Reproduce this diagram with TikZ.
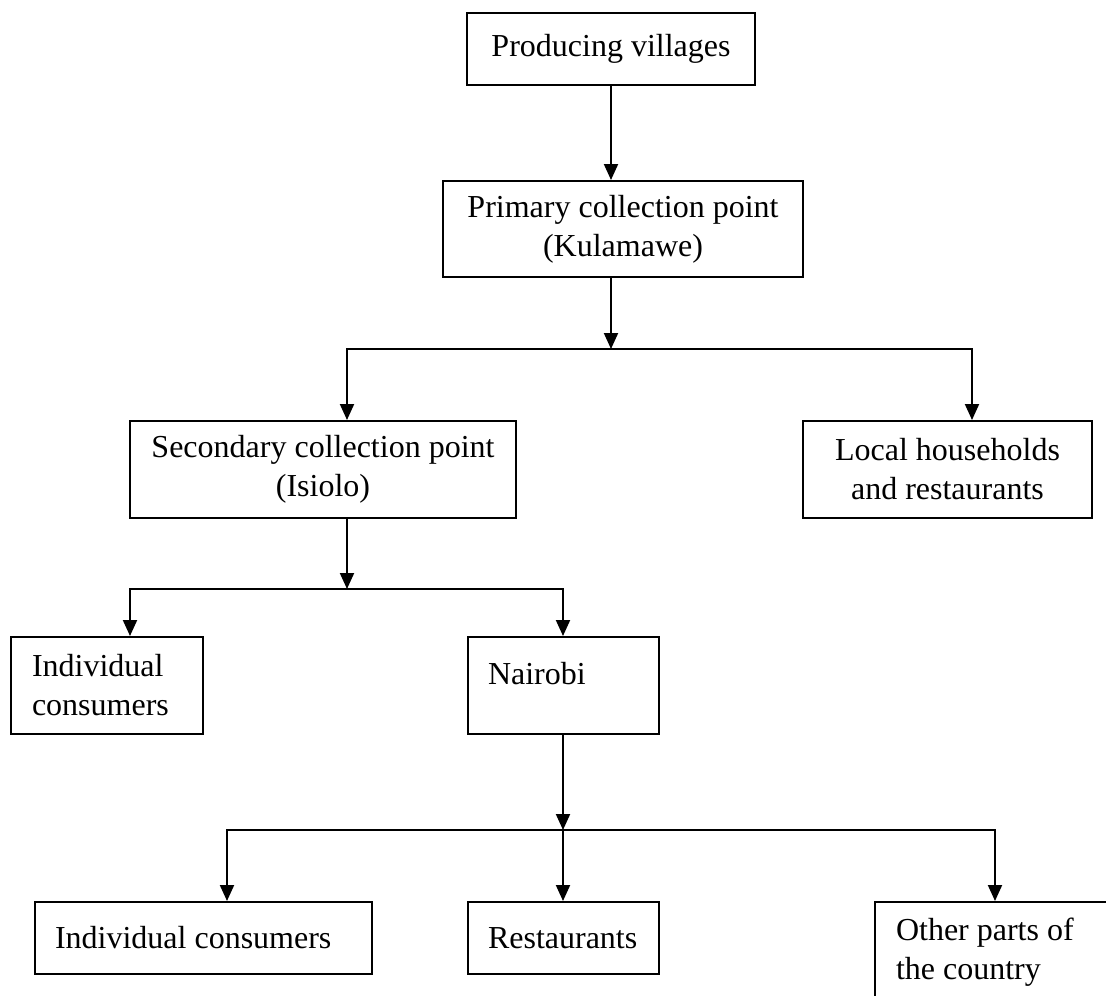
\documentclass[tikz,border=0pt]{standalone}
\usepackage{fontspec}
\setmainfont{Liberation Serif}
\usetikzlibrary{arrows.meta}

\begin{document}
\begin{tikzpicture}[x=1pt, y=-1pt, font=\fontsize{32}{39}\selectfont,
  box/.style={draw=black, line width=2pt, inner sep=0pt, align=center},
  lbox/.style={draw=black, line width=2pt, inner ysep=0pt, align=flush left},
  flow/.style={-{Triangle[width=14pt,length=16pt]}, line width=2pt}]
\clip (0,0) rectangle (1106,996);
\node[box, minimum width=288, minimum height=72] (prod) at (611,49) {Producing villages};
\node[box, minimum width=360, minimum height=96] (prim) at (623,229) {Primary collection point\\(Kulamawe)};
\node[box, minimum width=386, minimum height=97] (sec) at (323,469.5) {Secondary collection point\\(Isiolo)};
\node[box, minimum width=289, minimum height=97] (local) at (947.5,469.5) {Local households\\and restaurants};
\node[lbox, inner xsep=21, text width=150, minimum height=97] (indA) at (107,685.5) {Individual\\consumers};
\node[lbox, inner xsep=20, text width=151, minimum height=97, text depth=24pt] (nai) at (563.5,685.5) {Nairobi};
\node[lbox, inner xsep=20, text width=297, minimum height=72] (indB) at (203.5,938) {Individual consumers};
\node[lbox, inner xsep=20, text width=151, minimum height=72] (rest) at (563.5,938) {Restaurants};
\node[lbox, inner xsep=21, text width=223, minimum height=100] (other) at (1007.5,952) {Other parts of\\the country};
% junctions
\coordinate (j1) at (611,349);
\coordinate (j1l) at (347,349);
\coordinate (j1r) at (972,349);
\coordinate (j2) at (347,589);
\coordinate (j2l) at (130,589);
\coordinate (j2r) at (563,589);
\coordinate (j3) at (563,830);
\coordinate (j3l) at (227,830);
\coordinate (j3r) at (995,830);
\draw[flow] (prod.south) -- (prod.south |- prim.north);
\draw[flow] (prim.south -| j1) -- (j1);
\draw[flow] (j1) -| (j1l |- sec.north);
\draw[flow] (j1) -| (j1r |- local.north);
\draw[flow] (sec.south -| j2) -- (j2);
\draw[flow] (j2) -| (j2l |- indA.north);
\draw[flow] (j2) -| (j2r |- nai.north);
\draw[flow] (nai.south -| j3) -- (j3);
\draw[flow] (j3) -| (j3l |- indB.north);
\draw[flow] (j3) -- (j3 |- rest.north);
\draw[flow] (j3) -| (j3r |- other.north);
\end{tikzpicture}
\end{document}
